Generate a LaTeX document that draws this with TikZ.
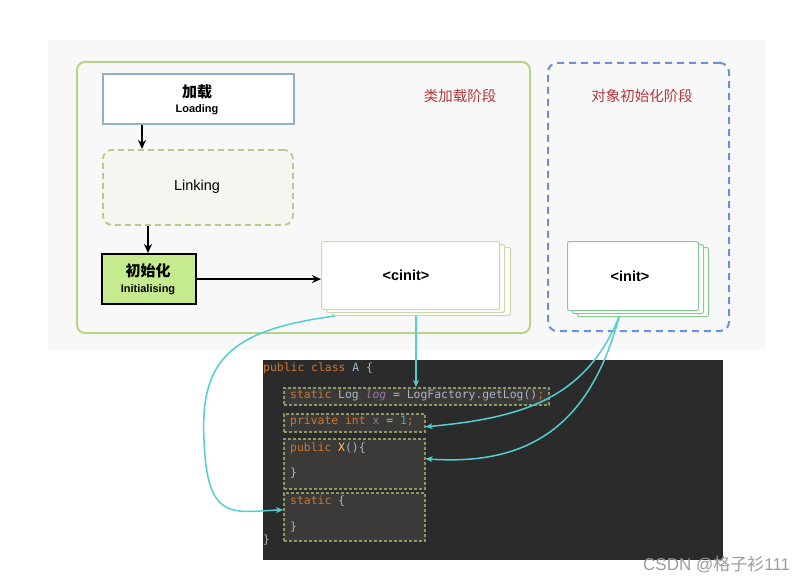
\documentclass[tikz,border=0pt]{standalone}
\usepackage{fontspec}
\setmainfont{Liberation Sans}
\newfontfamily\cjk{Noto Sans CJK SC}
\newfontfamily\codefont{DejaVu Sans Mono}
\usetikzlibrary{arrows.meta}
\definecolor{bggray}{HTML}{F8F8F8}
\definecolor{olivegreen}{HTML}{B9D18F}
\definecolor{loadblue}{HTML}{8FB0C8}
\definecolor{linkfill}{HTML}{F6F5F0}
\definecolor{linkline}{HTML}{B8CB8E}
\definecolor{initfill}{HTML}{C6EA8E}
\definecolor{cinitline}{HTML}{C8DBA5}
\definecolor{dashblue}{HTML}{6F8FD8}
\definecolor{initline}{HTML}{85CA92}
\definecolor{stagered}{HTML}{B5373A}
\definecolor{cyanline}{HTML}{52CFD3}
\definecolor{codebg}{HTML}{2B2B2B}
\definecolor{cboxfill}{HTML}{3B3A38}
\definecolor{cboxline}{HTML}{8A9A62}
\definecolor{kw}{HTML}{CC7832}
\definecolor{plain}{HTML}{A9B7C6}
\definecolor{purp}{HTML}{9876AA}
\definecolor{numc}{HTML}{6897BB}
\definecolor{yel}{HTML}{FFC66D}
\definecolor{wm}{HTML}{9C9C9C}
\begin{document}
\begin{tikzpicture}[x=1pt,y=-1pt,
  blackarrow/.style={line width=2.3pt,-{Stealth[length=9pt,width=8pt]}},
  cyanarrow/.style={draw=cyanline,line width=1.5pt,-{Stealth[length=7pt,width=6pt]}},
  stackbox/.style={draw=#1,line width=1pt,fill=white,rounded corners=2pt,minimum width=178pt,minimum height=68pt,anchor=north west,inner sep=0pt},
  istackbox/.style={draw=#1,line width=1pt,fill=white,rounded corners=2pt,minimum width=131pt,minimum height=69pt,anchor=north west,inner sep=0pt},
  cbox/.style={draw=cboxline,line width=1.6pt,dash pattern=on 3pt off 2pt,fill=cboxfill,anchor=north west,inner sep=0pt},
  codetxt/.style={anchor=west,inner sep=0pt,text height=8.5pt,text depth=2.5pt,font=\codefont\fontsize{11.4}{13}\selectfont},
  stagelabel/.style={text=stagered,font=\cjk\fontsize{14.5}{16}\selectfont}
]
\useasboundingbox (0,0) rectangle (810,583);
\fill[white] (0,0) rectangle (810,583);
% background
\node (bg) [fill=bggray,minimum width=717pt,minimum height=310pt,anchor=north west,inner sep=0pt] at (48,40) {};
% class loading stage
\node (clsstage) [draw=olivegreen,line width=2pt,rounded corners=8pt,minimum width=453pt,minimum height=271pt,anchor=north west,inner sep=0pt] at (76,61) {};
\node (clslabel) [stagelabel] at (460,96) {类加载阶段};
% object init stage
\node (objstage) [draw=dashblue,line width=2pt,dash pattern=on 7pt off 5pt,rounded corners=9pt,minimum width=181pt,minimum height=268pt,anchor=north west,inner sep=0pt] at (547,62) {};
\node (objlabel) [stagelabel] at (642,96) {对象初始化阶段};
% loading
\node (load) [draw=loadblue,line width=2pt,fill=white,minimum width=191pt,minimum height=50pt,anchor=north west,inner sep=0pt] at (102,73) {};
\node (loadcn) [font=\cjk\bfseries\fontsize{15}{17}\selectfont] at (197,92) {加载};
\node (loaden) [font=\bfseries\fontsize{11}{13}\selectfont] at (197,110) {Loading};
% linking
\node (link) [draw=linkline,line width=1.8pt,dash pattern=on 6pt off 4pt,fill=linkfill,rounded corners=9pt,minimum width=190pt,minimum height=75pt,anchor=north west,inner sep=0pt] at (102,149) {};
\node (linktxt) [font=\fontsize{14.5}{16}\selectfont] at (197,187) {Linking};
% initialising
\node (init) [draw=black,line width=2.2pt,fill=initfill,minimum width=94pt,minimum height=50pt,anchor=north west,inner sep=0pt] at (101,253) {};
\node (initcn) [font=\cjk\bfseries\fontsize{15}{17}\selectfont] at (148,271) {初始化};
\node (initen) [font=\bfseries\fontsize{11}{13}\selectfont] at (148,290) {Initialising};
% cinit stack
\node (cinit3) [stackbox=cinitline] at (332,247) {};
\node (cinit2) [stackbox=cinitline] at (326,244) {};
\node (cinit) [stackbox=cinitline] at (321,241) {};
\node (cinittxt) [font=\bfseries\fontsize{14.5}{16}\selectfont] at (406,275) {<cinit>};
% init stack
\node (oinit3) [istackbox=initline] at (577,247) {};
\node (oinit2) [istackbox=initline] at (572,244) {};
\node (oinit) [istackbox=initline] at (567,241) {};
\node (oinittxt) [font=\bfseries\fontsize{14.5}{16}\selectfont] at (630,276) {<init>};
% black arrows
\coordinate (ax1) at (142,0);
\coordinate (ax2) at (148,0);
\draw[blackarrow] (load.south -| ax1) -- (link.north -| ax1);
\draw[blackarrow] (link.south -| ax2) -- (init.north -| ax2);
\draw[blackarrow] (init.east) -- (init.east -| cinit.west);
% code area
\node (code) [fill=codebg,minimum width=460pt,minimum height=200pt,anchor=north west,inner sep=0pt] at (263,360) {};
\node (b1) [cbox,minimum width=265pt,minimum height=17pt] at (283,387) {};
\node (b2) [cbox,minimum width=141pt,minimum height=18pt] at (283,413) {};
\node (b3) [cbox,minimum width=141pt,minimum height=50pt] at (283,438) {};
\node (b4) [cbox,minimum width=141pt,minimum height=48pt] at (283,492) {};
\node (l0) [codetxt] at (263,368) {\textcolor{kw}{public class} \textcolor{plain}{A \{}};
\node (l1) [codetxt] at (290,395) {\textcolor{kw}{static} \textcolor{plain}{Log} \textcolor{purp}{\itshape log} \textcolor{plain}{= LogFactory.getLog()}\textcolor{kw}{;}};
\node (l2) [codetxt] at (290,421) {\textcolor{kw}{private int} \textcolor{purp}{x} \textcolor{plain}{=} \textcolor{numc}{1}\textcolor{kw}{;}};
\node (l3) [codetxt] at (290,448) {\textcolor{kw}{public} \textcolor{yel}{X}\textcolor{plain}{()\{}};
\node (l4) [codetxt] at (290,473) {\textcolor{plain}{\}}};
\node (l5) [codetxt] at (290,501) {\textcolor{kw}{static} \textcolor{plain}{\{}};
\node (l6) [codetxt] at (290,527) {\textcolor{plain}{\}}};
\node (l7) [codetxt] at (263,540) {\textcolor{plain}{\}}};
% cyan arrows
\coordinate (cx1) at (416,0);
\draw[cyanarrow] (cinit3.south -| cx1) -- (b1.north -| cx1);
\draw[cyanarrow] ([xshift=3pt]cinit3.south west) .. controls (230,330) and (200,360) .. (204,440) .. controls (207,522) and (232,512) .. ([yshift=7pt]b4.west);
\draw[cyanarrow] ([xshift=-24pt]oinit3.south) .. controls (585,400) and (520,418) .. ([yshift=-4pt]b2.east);
\draw[cyanarrow] ([xshift=-24pt]oinit3.south) .. controls (590,425) and (530,466) .. ([yshift=5pt]b3.east);
% watermark
\node (wmark) [text=wm,anchor=west,inner sep=0pt,font=\fontsize{17}{19}\selectfont] at (643,565) {CSDN @{\cjk 格子衫}111};
\end{tikzpicture}
\end{document}
